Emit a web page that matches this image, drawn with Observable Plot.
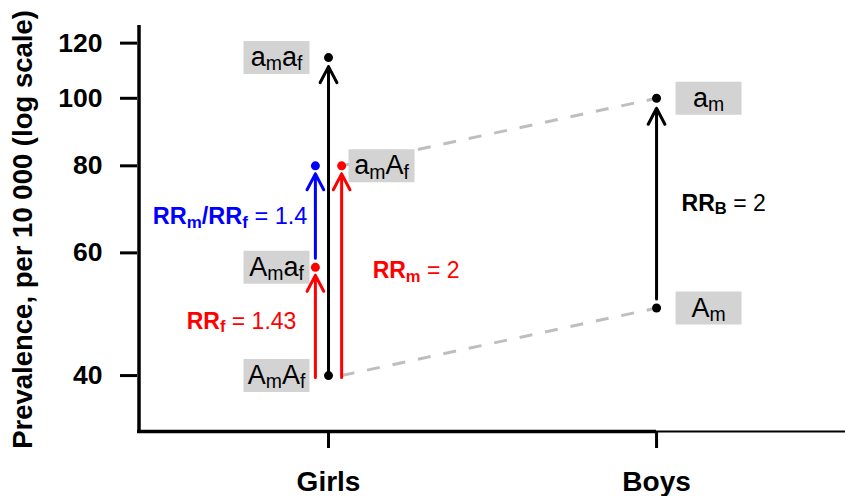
<!DOCTYPE html>
<html><head><meta charset="utf-8">
<script src="https://cdn.jsdelivr.net/npm/d3@7"></script>
<script src="https://cdn.jsdelivr.net/npm/@observablehq/plot@0.6"></script>
<style>
body{margin:0;background:#fff;}
</style>
</head><body><div id="chart"></div>
<script>
// ---- data ----
const groups = ["Girls", "Boys"];
const groupIndex = [1, 2];
const girlsGenotypes = ["A_{m}A_{f}", "A_{m}a_{f}", "a_{m}A_{f}", "a_{m}a_{f}"];
const girlsPrevalence = [40, 57.2, 80, 114.4];
const boysGenotypes = ["A_{m}", "a_{m}"];
const boysPrevalence = [50, 100];
const yTicks = [40, 60, 80, 100, 120];
const ratioLabels = ["*RR_{f}* = 1.43", "*RR_{m}/RR_{f}* = 1.4", "*RR_{m}* = 2", "*RR_{B}* = 2"];
const yTitle = "Prevalence, per 10 000 (log scale)";

// ---- derived ----
const G = groupIndex[0], B = groupIndex[1];
const [AA, Aa, aA, aa] = girlsPrevalence;
const [bA, ba] = boysPrevalence;
const off = 0.04;               // horizontal offset of side arrows (x units)
const xDomain = [0.4177, 2.576];
const yDomain = [33.25, 127.2];
const gm = (a, b) => Math.sqrt(a * b);

const boxSymbol = {draw(ctx) { ctx.rect(-33, -16.5, 66, 33); }};
const gray = "#BEBEBE", box = "#D3D3D3", red = "#FF0000", blue = "#0000FF";

const girlsLabels = girlsGenotypes.map((t, i) => ({x: G, y: girlsPrevalence[i], t}));
const girlsLeft = girlsLabels.filter((d, i) => i !== 2);
const girlsRight = girlsLabels.filter((d, i) => i === 2);
const boysLabels = boysGenotypes.map((t, i) => ({x: B, y: boysPrevalence[i], t}));

const arrowOpts = {x1: "x", x2: "x", y1: "y1", y2: "y2", strokeWidth: 3, headLength: 9, headAngle: 55, strokeLinecap: "round", strokeLinejoin: "round"};

const plot = Plot.plot({
  width: 845, height: 496,
  marginLeft: 137, marginRight: 0, marginTop: 25, marginBottom: 65,
  style: {fontFamily: "'Liberation Sans', Arial, Helvetica, sans-serif", background: "#fff", color: "#000", overflow: "visible"},
  x: {type: "linear", domain: xDomain, axis: null},
  y: {type: "log", domain: yDomain, axis: null},
  marks: [
    // dashed connectors
    Plot.link([{x1: G + off, y1: AA, x2: B, y2: bA}, {x1: G + off, y1: aA, x2: B, y2: ba}],
      {x1: "x1", y1: "y1", x2: "x2", y2: "y2", stroke: gray, strokeWidth: 3, strokeDasharray: "13,13"}),
    // label boxes
    Plot.dot(girlsLeft, {x: "x", y: "y", dx: -52, symbol: boxSymbol, fill: box, stroke: null}),
    Plot.dot(girlsRight, {x: "x", y: "y", dx: 53, symbol: boxSymbol, fill: box, stroke: null}),
    Plot.dot(boysLabels, {x: "x", y: "y", dx: 52, symbol: boxSymbol, fill: box, stroke: null}),
    // arrows
    Plot.arrow([{x: G, y1: AA, y2: aa}], {...arrowOpts, stroke: "#000", insetStart: 2, insetEnd: 9}),
    Plot.arrow([{x: G - off, y1: Aa, y2: aA}], {...arrowOpts, stroke: blue, insetStart: 9, insetEnd: 8}),
    Plot.arrow([{x: G - off, y1: AA, y2: Aa}], {...arrowOpts, stroke: red, insetStart: -2, insetEnd: 8}),
    Plot.arrow([{x: G + off, y1: AA, y2: aA}], {...arrowOpts, stroke: red, insetStart: -2, insetEnd: 8}),
    Plot.arrow([{x: B, y1: bA, y2: ba}], {...arrowOpts, stroke: "#000", insetStart: 9, insetEnd: 10}),
    // dots
    Plot.dot([{x: G, y: AA}, {x: G, y: aa}, {x: B, y: bA}, {x: B, y: ba}], {x: "x", y: "y", r: 4.5, fill: "#000", stroke: null}),
    Plot.dot([{x: G - off, y: Aa}, {x: G + off, y: aA}], {x: "x", y: "y", r: 4.5, fill: red, stroke: null}),
    Plot.dot([{x: G - off, y: aA}], {x: "x", y: "y", r: 4.5, fill: blue, stroke: null}),
    // genotype labels
    Plot.text(girlsLeft, {x: "x", y: "y", text: "t", dx: -52, fontSize: 27, fill: "#000"}),
    Plot.text(girlsRight, {x: "x", y: "y", text: "t", dx: 53, fontSize: 27, fill: "#000"}),
    Plot.text(boysLabels, {x: "x", y: "y", text: "t", dx: 52, fontSize: 27, fill: "#000"}),
    // ratio labels
    Plot.text([{x: G - off, y: gm(AA, Aa), t: ratioLabels[0]}], {x: "x", y: "y", text: "t", textAnchor: "end", dx: -19, fontSize: 23, fill: red}),
    Plot.text([{x: G - off, y: gm(Aa, aA), t: ratioLabels[1]}], {x: "x", y: "y", text: "t", textAnchor: "end", dx: -8, fontSize: 23.5, fill: blue}),
    Plot.text([{x: G + off, y: gm(AA, aA), t: ratioLabels[2]}], {x: "x", y: "y", text: "t", textAnchor: "start", dx: 31, fontSize: 23, fill: red}),
    Plot.text([{x: B, y: gm(bA, ba), t: ratioLabels[3]}], {x: "x", y: "y", text: "t", textAnchor: "start", dx: 25, fontSize: 23, fill: "#000"}),
    // axes
    Plot.axisY(yTicks, {anchor: "left", tickSize: 17, tickPadding: 18, fontSize: 26.5, fontWeight: "bold", strokeWidth: 3, label: null, tickFormat: d => String(d)}),
    Plot.axisX(groupIndex, {anchor: "bottom", tickSize: 17, tickPadding: 23, fontSize: 28, fontWeight: "bold", strokeWidth: 3, label: null, tickFormat: d => groups[groupIndex.indexOf(d)]}),
    Plot.ruleX([{x: xDomain[0], y1: yDomain[0], y2: yDomain[1]}], {x: "x", y1: "y1", y2: "y2", dx: 1.5, strokeWidth: 3.5, stroke: "#000"}),
    Plot.ruleY([{y: yDomain[0], x1: xDomain[0], x2: B}], {y: "y", x1: "x1", x2: "x2", strokeWidth: 3.3, stroke: "#000"}),
    Plot.ruleY([{y: yDomain[0], x1: B, x2: xDomain[1]}], {y: "y", x1: "x1", x2: "x2", strokeWidth: 2.2, stroke: "#000"}),
    // y title
    Plot.text([yTitle], {frameAnchor: "left", dx: -114, dy: 1, rotate: -90, textAnchor: "middle", lineAnchor: "middle", fontSize: 27.5, fontWeight: "bold", fill: "#000"})
  ]
});

// rich text: *bold* and _{subscript}
function richText(svg) {
  const NS = "http://www.w3.org/2000/svg";
  svg.querySelectorAll("text").forEach(t => {
    const s = t.textContent;
    if (!/_\{|\*/.test(s)) return;
    const base = parseFloat(getComputedStyle(t).fontSize);
    while (t.firstChild) t.removeChild(t.firstChild);
    let bold = false, sub = false, buf = "";
    const segs = [];
    const flush = () => { if (buf) segs.push({s: buf, bold, sub}); buf = ""; };
    for (let i = 0; i < s.length; i++) {
      const c = s[i];
      if (c === "*") { flush(); bold = !bold; }
      else if (c === "_" && s[i + 1] === "{") { flush(); sub = true; i++; }
      else if (c === "}" && sub) { flush(); sub = false; }
      else buf += c;
    }
    flush();
    let cur = 0;
    for (const seg of segs) {
      const ts = document.createElementNS(NS, "tspan");
      const target = seg.sub ? 0.15 * base : 0;
      if (target !== cur) { ts.setAttribute("dy", (target - cur).toFixed(2)); cur = target; }
      ts.setAttribute("font-size", (seg.sub ? 0.72 * base : base).toFixed(2));
      ts.setAttribute("font-weight", seg.bold ? "bold" : "normal");
      ts.textContent = seg.s;
      t.appendChild(ts);
    }
  });
}

document.getElementById("chart").appendChild(plot);
richText(plot);
</script>
</body></html>
